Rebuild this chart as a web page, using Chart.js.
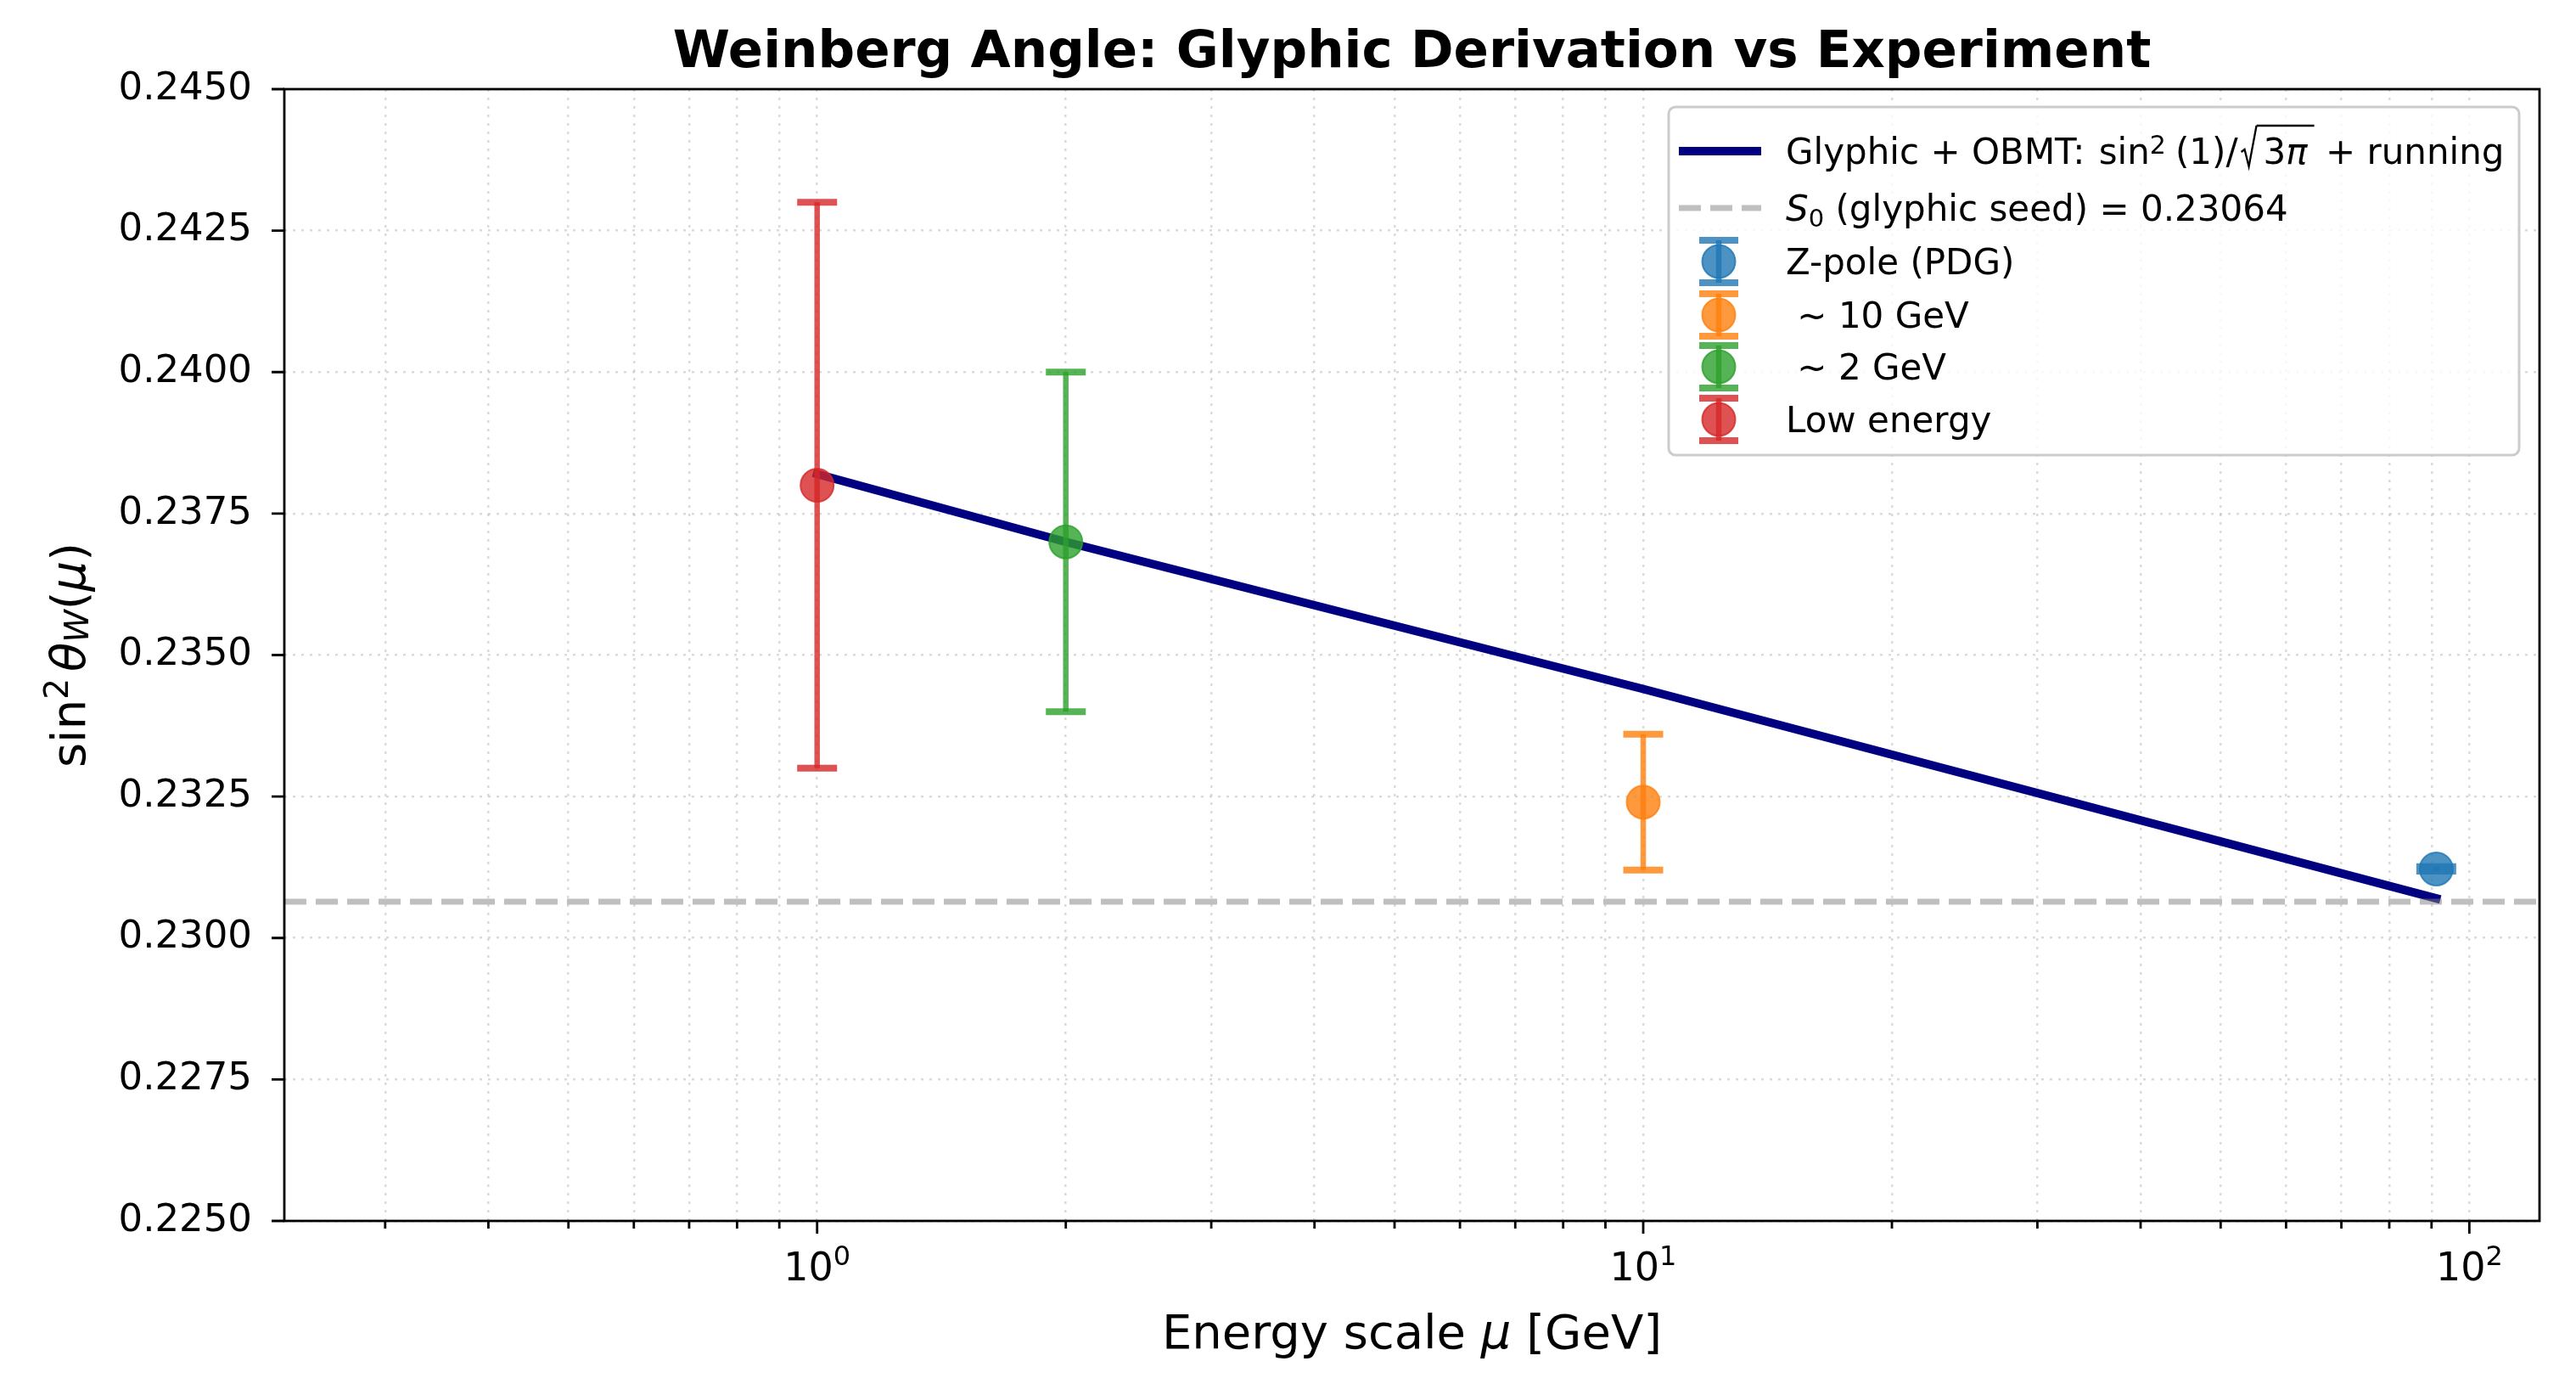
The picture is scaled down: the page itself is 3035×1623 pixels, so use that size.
<!DOCTYPE html>
<html>
<head>
<meta charset="utf-8">
<title>Weinberg Angle: Glyphic Derivation vs Experiment</title>
<script src="https://cdn.jsdelivr.net/npm/chart.js@4.4.0/dist/chart.umd.min.js"></script>
<style>
    html, body { margin: 0; padding: 0; background: #ffffff; }
    #wrap { width: 3035px; height: 1623px; position: relative; }
</style>
</head>
<body>
<div id="wrap"><canvas id="chart"></canvas></div>
<script>
// running curve (Glyphic + OBMT)
const runMu = [1, 2, 10, 91.19];
const runSin2 = [0.2382, 0.2370, 0.2344, 0.2307];

// glyphic seed
const seedS0 = 0.23064;

// measurements
const measNames = ['Z-pole (PDG)', ' \u223C 10 GeV', ' \u223C 2 GeV', 'Low energy'];
const measMu = [91.19, 10, 2, 1];
const measSin2 = [0.23122, 0.2324, 0.2370, 0.2380];
const measErr = [0.00004, 0.0012, 0.0030, 0.0050];
const measColors = [
    'rgba(31, 119, 180, 0.8)',
    'rgba(255, 127, 14, 0.8)',
    'rgba(44, 160, 44, 0.8)',
    'rgba(214, 39, 40, 0.8)'
];

// axes
const xRange = [0.2265, 121.6];
const yRange = [0.2250, 0.2450];
const yStep = 0.0025;
const xDecades = [1, 10, 100];
const xDecadeExps = ['0', '1', '2'];

const FONT = '"DejaVu Sans", sans-serif';
const LEG = 42;

function fontOf(p) {
    return (p.i ? 'italic ' : 'normal ') + (p.b ? 'bold ' : 'normal ') + p.s + 'px ' + FONT;
}

function partWidth(ctx, p) {
    if (p.rad) {
        return p.w;
    }
    if (p.gap) {
        return p.gap;
    }
    ctx.font = fontOf(p);
    return ctx.measureText(p.t).width;
}

// draws a run of mixed-style text on one baseline
function drawRich(ctx, parts, x, y, align) {
    let total = 0;
    parts.forEach(function (p) { total += partWidth(ctx, p); });
    let cx = align === 'center' ? x - total / 2 : x;
    let overStart = null, overEnd = null, overY = 0;
    ctx.textAlign = 'left';
    ctx.textBaseline = 'alphabetic';
    ctx.fillStyle = '#000';
    parts.forEach(function (p) {
        const w = partWidth(ctx, p);
        if (p.rad) {
            ctx.beginPath();
            ctx.moveTo(cx, y - 14);
            ctx.lineTo(cx + 4, y - 17);
            ctx.lineTo(cx + 9, y + 3);
            ctx.lineTo(cx + p.w, y - p.h);
            ctx.lineWidth = 2.3;
            ctx.strokeStyle = '#000';
            ctx.stroke();
            overStart = cx + p.w;
            overY = y - p.h;
        } else if (!p.gap) {
            ctx.font = fontOf(p);
            ctx.fillText(p.t, cx, y + (p.dy || 0));
        }
        cx += w;
        if (p.over) {
            overEnd = cx;
        }
    });
    if (overStart !== null && overEnd !== null) {
        ctx.beginPath();
        ctx.moveTo(overStart, overY);
        ctx.lineTo(overEnd, overY);
        ctx.lineWidth = 2.5;
        ctx.strokeStyle = '#000';
        ctx.stroke();
    }
    return cx;
}

function drawErrorBar(ctx, x, yTop, yBot, capW, color) {
    ctx.save();
    ctx.strokeStyle = color;
    ctx.lineCap = 'butt';
    ctx.lineWidth = 6.5;
    ctx.beginPath();
    ctx.moveTo(x, yTop);
    ctx.lineTo(x, yBot);
    ctx.stroke();
    ctx.lineWidth = 8;
    ctx.beginPath();
    ctx.moveTo(x - capW / 2, yTop);
    ctx.lineTo(x + capW / 2, yTop);
    ctx.moveTo(x - capW / 2, yBot);
    ctx.lineTo(x + capW / 2, yBot);
    ctx.stroke();
    ctx.restore();
}

const errorBarPlugin = {
    id: 'errorBars',
    beforeDatasetDraw: function (chart, args) {
        const i = args.index - 2;
        if (i < 0) {
            return;
        }
        const xs = chart.scales.x;
        const ys = chart.scales.y;
        const px = xs.getPixelForValue(measMu[i]);
        const yTop = ys.getPixelForValue(measSin2[i] + measErr[i]);
        const yBot = ys.getPixelForValue(measSin2[i] - measErr[i]);
        drawErrorBar(chart.ctx, px, yTop, yBot, 47, measColors[i]);
    }
};

const framePlugin = {
    id: 'frameTicks',
    afterDatasetsDraw: function (chart) {
        const ctx = chart.ctx;
        const a = chart.chartArea;
        const xs = chart.scales.x;
        const ys = chart.scales.y;
        ctx.save();
        ctx.strokeStyle = '#000';
        ctx.lineWidth = 2.8;
        ctx.beginPath();
        xs.ticks.forEach(function (t) {
            const px = xs.getPixelForValue(t.value);
            if (px < a.left - 1 || px > a.right + 1) {
                return;
            }
            const len = xDecades.indexOf(t.value) >= 0 ? 15 : 9;
            ctx.moveTo(px, a.bottom);
            ctx.lineTo(px, a.bottom + len);
        });
        ys.ticks.forEach(function (t) {
            const py = ys.getPixelForValue(t.value);
            ctx.moveTo(a.left, py);
            ctx.lineTo(a.left - 15, py);
        });
        ctx.stroke();
        ctx.strokeRect(a.left, a.top, a.right - a.left, a.bottom - a.top);

        // decade labels 10^n under the x axis
        xDecades.forEach(function (v, k) {
            const px = xs.getPixelForValue(v);
            drawRich(ctx, [
                { t: '10', s: 46 },
                { t: xDecadeExps[k], s: 32, dy: -18 }
            ], px, 1508, 'center');
        });
        ctx.restore();
    }
};

const textPlugin = {
    id: 'texts',
    afterDraw: function (chart) {
        const ctx = chart.ctx;
        const a = chart.chartArea;
        const midX = (a.left + a.right) / 2;
        ctx.save();

        // title
        drawRich(ctx, [{ t: 'Weinberg Angle: Glyphic Derivation vs Experiment', s: 61, b: true }], midX, 79, 'center');

        // x axis title
        drawRich(ctx, [
            { t: 'Energy scale ', s: 56 },
            { t: '\u03BC', s: 56, i: true },
            { t: ' [GeV]', s: 56 }
        ], midX, 1588, 'center');

        // y axis title, rotated
        ctx.save();
        ctx.translate(100, (a.top + a.bottom) / 2);
        ctx.rotate(-Math.PI / 2);
        drawRich(ctx, [
            { t: 'sin', s: 56 },
            { t: '2', s: 39, dy: -20 },
            { gap: 8 },
            { t: '\u03B8', s: 56, i: true },
            { t: 'W', s: 39, i: true, dy: 4 },
            { t: '(', s: 56 },
            { t: '\u03BC', s: 56, i: true },
            { t: ')', s: 56 }
        ], 0, 0, 'center');
        ctx.restore();

        // legend
        const box = { x: 1966, y: 126, w: 1002, h: 410 };
        ctx.beginPath();
        ctx.roundRect(box.x, box.y, box.w, box.h, 8);
        ctx.fillStyle = 'rgba(255, 255, 255, 0.8)';
        ctx.fill();
        ctx.lineWidth = 3;
        ctx.strokeStyle = '#cccccc';
        ctx.stroke();

        const rowY = [178, 245, 308, 371, 432, 494];
        const textX = 2104;

        ctx.save();
        ctx.strokeStyle = '#000080';
        ctx.lineWidth = 10;
        ctx.beginPath();
        ctx.moveTo(1978, rowY[0]);
        ctx.lineTo(2075, rowY[0]);
        ctx.stroke();
        ctx.strokeStyle = 'rgba(128, 128, 128, 0.5)';
        ctx.lineWidth = 7;
        ctx.setLineDash([26, 11]);
        ctx.beginPath();
        ctx.moveTo(1978, rowY[1]);
        ctx.lineTo(2075, rowY[1]);
        ctx.stroke();
        ctx.restore();

        drawRich(ctx, [
            { t: 'Glyphic + OBMT: ', s: LEG },
            { gap: 3 },
            { t: 'sin', s: LEG },
            { t: '2', s: 30, dy: -12 },
            { gap: 11 },
            { t: '(1)/', s: LEG },
            { gap: 4 },
            { rad: true, w: 18, h: 45 },
            { gap: 8 },
            { t: '3', s: LEG, over: true },
            { t: '\u03C0', s: LEG, i: true, over: true },
            { gap: 8, over: true },
            { t: ' + running', s: LEG }
        ], textX, rowY[0] + 15, 'left');

        drawRich(ctx, [
            { t: 'S', s: LEG, i: true },
            { t: '0', s: 29, dy: 7 },
            { t: ' (glyphic seed) = ' + seedS0.toFixed(5), s: LEG }
        ], textX, rowY[1] + 15, 'left');

        for (let i = 0; i < measNames.length; i++) {
            const y = rowY[i + 2];
            drawErrorBar(ctx, 2025, y - 25, y + 25, 46, measColors[i]);
            ctx.beginPath();
            ctx.arc(2025, y, 19.5, 0, Math.PI * 2);
            ctx.fillStyle = measColors[i];
            ctx.fill();
            ctx.lineWidth = 2;
            ctx.strokeStyle = measColors[i];
            ctx.stroke();
            drawRich(ctx, [{ t: measNames[i], s: LEG }], textX, y + 15, 'left');
        }
        ctx.restore();
    }
};

const datasets = [
    {
        label: 'Glyphic + OBMT',
        data: runMu.map(function (m, i) { return { x: m, y: runSin2[i] }; }),
        showLine: true,
        borderColor: '#000080',
        borderWidth: 10,
        borderCapStyle: 'square',
        pointRadius: 0,
        order: 3
    },
    {
        label: 'S0',
        data: [{ x: xRange[0], y: seedS0 }, { x: xRange[1], y: seedS0 }],
        showLine: true,
        borderColor: 'rgba(128, 128, 128, 0.5)',
        borderWidth: 7,
        borderDash: [26, 11],
        pointRadius: 0,
        order: 2
    }
];

measNames.forEach(function (name, i) {
    datasets.push({
        label: name,
        data: [{ x: measMu[i], y: measSin2[i] }],
        pointRadius: 19.5,
        pointBorderWidth: 2,
        pointBackgroundColor: measColors[i],
        pointBorderColor: measColors[i],
        order: 1
    });
});

new Chart(document.getElementById('chart').getContext('2d'), {
    type: 'scatter',
    data: { datasets: datasets },
    options: {
        responsive: true,
        maintainAspectRatio: false,
        devicePixelRatio: 1,
        animation: false,
        events: [],
        layout: { padding: { top: 105, right: 43, left: 0, bottom: 0 } },
        plugins: {
            legend: { display: false },
            title: { display: false },
            tooltip: { enabled: false }
        },
        scales: {
            x: {
                type: 'logarithmic',
                min: xRange[0],
                max: xRange[1],
                afterBuildTicks: function (scale) {
                    const ticks = [];
                    [0.1, 1, 10, 100].forEach(function (base) {
                        for (let k = 1; k <= 9; k++) {
                            const v = k * base;
                            if (v >= xRange[0] && v <= xRange[1]) {
                                ticks.push({ value: v, major: k === 1 });
                            }
                        }
                    });
                    scale.ticks = ticks;
                },
                afterFit: function (scale) { scale.height = 185; },
                grid: {
                    color: 'rgba(176, 176, 176, 0.45)',
                    lineWidth: 2.5,
                    drawTicks: false
                },
                border: { display: false, dash: [3, 7] },
                ticks: { display: false, autoSkip: false }
            },
            y: {
                min: yRange[0],
                max: yRange[1],
                afterFit: function (scale) { scale.width = 335; },
                grid: {
                    color: 'rgba(176, 176, 176, 0.45)',
                    lineWidth: 2.5,
                    drawTicks: false
                },
                border: { display: false, dash: [3, 7] },
                ticks: {
                    stepSize: yStep,
                    padding: 38,
                    color: '#000',
                    font: { family: FONT, size: 45 },
                    callback: function (value) { return value.toFixed(4); }
                }
            }
        }
    },
    plugins: [errorBarPlugin, framePlugin, textPlugin]
});
</script>
</body>
</html>
